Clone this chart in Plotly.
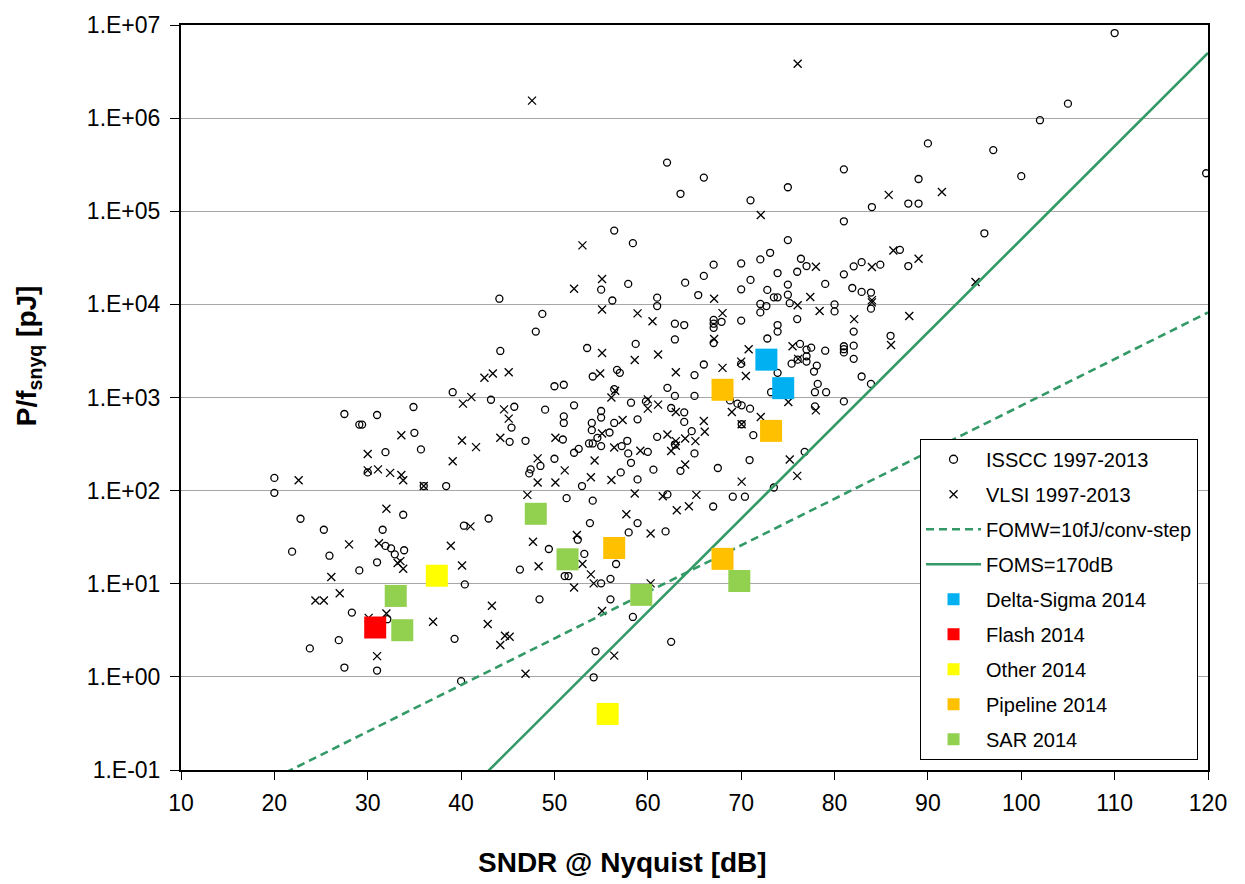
import plotly.graph_objects as go

# ---- ADC survey data: (SNDR @ Nyquist [dB], P/f_snyq [pJ]) ----
isscc_1997_2013 = [
    (39.1, 1140), (27.5, 665), (31.0, 649), (34.9, 791), (29.1, 512), (29.4, 512), (35.0, 417),
    (31.9, 259), (35.7, 277), (20.0, 137), (20.0, 94.6), (30.0, 157), (36.0, 112), (38.4, 112),
    (22.8, 49.9), (25.3, 38.0), (33.8, 55.1), (31.6, 38.0), (40.3, 42.0), (21.9, 22.1), (25.9, 20.0),
    (31.9, 25.5), (32.5, 24.0), (32.9, 20.7), (33.9, 22.9), (31.0, 17.0), (29.1, 13.9), (40.4, 9.84),
    (28.3, 4.9), (32.1, 4.16), (26.9, 2.48), (23.8, 2.02), (39.3, 2.56), (27.5, 1.26), (31.0, 1.17),
    (40.0, 0.90),
    (56.4, 6.2e4), (58.4, 4.54e4), (44.1, 1.15e4), (55.0, 1.44e4), (56.2, 1.1e4), (57.9, 1.66e4),
    (61.0, 1.18e4), (61.0, 9.6e3), (64.0, 1.71e4), (66.0, 2.02e4), (67.05, 2.67e4), (65.4, 1.26e4),
    (48.7, 7.9e3), (48.0, 5.1e3), (44.2, 3.16e3), (62.9, 6.2e3), (63.9, 6.0e3), (62.9, 4.2e3),
    (67.05, 6.8e3), (67.05, 6.2e3), (67.05, 5.6e3), (67.9, 6.5e3), (67.05, 3.85e3),
    (53.5, 3.4e3), (58.7, 3.76e3), (66.0, 2.26e3), (65.0, 1.74e3), (54.1, 1.68e3), (56.7, 1.98e3),
    (57.0, 1.84e3), (56.4, 1.23e3), (50.0, 1.32e3), (51.0, 1.37e3),
    (43.2, 946), (62.1, 1.27e3), (62.9, 1.04e3), (65.0, 1.04e3), (58.2, 879), (59.8, 908), (45.7, 796),
    (52.1, 824), (49.0, 740), (51.0, 628), (51.0, 533), (55.0, 716), (55.0, 608), (54.0, 533),
    (54.0, 446), (56.4, 533), (58.9, 583), (62.5, 771), (63.9, 693), (63.9, 547), (68.8, 931),
    (64.7, 435), (45.4, 475), (45.2, 334), (46.9, 343), (50.9, 354), (55.9, 421), (54.6, 369),
    (53.7, 321), (54.1, 321), (55.0, 301), (57.2, 301), (57.8, 343), (61.0, 378), (62.9, 313),
    (52.6, 281), (52.1, 255), (57.9, 251), (60.0, 261), (65.0, 251), (50.0, 220), (58.2, 199),
    (47.45, 169), (47.3, 153), (48.5, 184), (57.1, 157), (60.6, 168), (63.5, 163), (67.5, 175),
    (58.9, 132), (52.95, 112), (51.3, 83), (54.1, 78), (62.1, 91), (69.1, 86),
    (67.0, 67.5), (42.95, 50.2), (53.8, 44.8), (58.9, 44.8), (57.95, 35.6), (61.9, 36.5), (52.5, 29.7),
    (49.4, 23.6), (53.2, 20.9), (56.6, 16.3), (46.3, 14.2), (51.1, 12.1), (51.5, 12.1), (55.0, 10.1),
    (56.0, 11.3), (48.4, 6.8), (56.0, 6.8), (58.4, 4.4), (54.4, 1.88), (62.5, 2.38), (54.2, 0.99),
    (81.0, 7.8e4), (75.0, 4.9e4), (73.1, 3.58e4), (72.05, 3.04e4), (76.4, 3.09e4), (77.0, 2.58e4),
    (76.0, 2.24e4), (73.9, 2.17e4), (71.0, 1.83e4), (70.0, 2.75e4), (70.0, 1.45e4), (72.8, 1.43e4),
    (75.0, 1.63e4), (75.0, 1.27e4), (73.5, 1.19e4), (73.9, 1.19e4), (75.2, 1.03e4), (72.05, 1.01e4),
    (72.7, 9.6e3), (72.05, 8.2e3), (79.0, 1.66e4), (81.0, 2.1e4), (81.9, 1.5e4), (82.05, 2.56e4),
    (82.9, 2.84e4), (84.9, 2.67e4), (82.9, 1.36e4), (83.9, 1.34e4), (83.9, 9.0e3), (87.0, 3.85e4),
    (87.9, 2.58e4), (80.0, 1.0e4), (80.0, 8.4e3),
    (70.0, 6.7e3), (76.0, 6.95e3), (73.9, 6.0e3), (73.9, 5.1e3), (72.8, 4.3e3), (82.05, 5.1e3),
    (86.0, 4.6e3), (76.3, 3.76e3), (77.0, 3.27e3), (77.5, 3.43e3), (79.0, 3.18e3), (77.0, 2.77e3),
    (77.0, 2.43e3), (76.05, 2.55e3), (75.4, 2.31e3), (81.0, 3.55e3), (81.0, 3.3e3), (81.0, 3.05e3),
    (82.05, 3.6e3), (82.05, 2.6e3), (78.1, 2.2e3), (77.8, 1.9e3), (70.0, 2.3e3), (73.9, 1.84e3),
    (82.9, 1.68e3), (83.9, 1.4e3), (78.2, 1.4e3), (77.9, 1.14e3), (79.1, 1.14e3), (73.2, 1.14e3),
    (81.0, 908), (69.6, 859), (70.05, 824), (70.95, 759), (70.05, 516), (71.3, 394), (77.9, 803),
    (70.9, 213), (76.8, 261), (73.5, 108), (70.4, 86),
    (110.0, 8.2e6), (105.0, 1.43e6), (102.0, 9.5e5), (90.0, 5.35e5), (97.0, 4.54e5), (100.0, 2.38e5),
    (119.8, 2.56e5), (81.0, 2.82e5), (75.0, 1.81e5), (71.0, 1.31e5), (66.0, 2.3e5), (89.0, 2.22e5),
    (84.0, 1.11e5), (87.9, 1.21e5), (89.0, 1.21e5), (62.06, 3.33e5), (63.5, 1.54e5), (96.05, 5.8e4),
]

vlsi_1997_2013 = [
    (40.2, 859), (33.6, 394), (40.1, 345), (30.0, 247), (39.1, 207), (30.0, 165), (31.1, 169),
    (32.4, 155), (33.6, 147), (33.8, 129), (22.6, 129), (36.0, 112), (32.0, 63.8), (28.0, 26.5),
    (31.2, 27.2), (38.9, 25.6), (33.2, 16.7), (33.5, 17.5), (33.8, 14.5), (40.1, 15.7), (26.1, 11.8),
    (24.4, 6.6), (25.3, 6.6), (27.0, 7.9), (30.1, 4.3), (32.0, 4.8), (37.0, 3.9), (31.0, 1.67),
    (53.0, 4.3e4), (55.1, 1.87e4), (52.1, 1.47e4), (55.1, 8.8e3), (58.9, 8.0e3), (60.5, 6.6e3),
    (67.1, 1.15e4), (68.0, 8.05e3), (67.1, 4.25e3), (55.1, 3.0e3), (58.6, 2.53e3), (61.1, 2.89e3),
    (63.0, 1.87e3), (68.0, 2.08e3), (54.9, 1.81e3), (42.5, 1.63e3), (43.4, 1.81e3), (45.1, 1.87e3),
    (56.5, 1.18e3), (56.1, 1.0e3), (41.1, 1.01e3), (60.0, 955), (60.0, 759), (61.1, 838), (63.0, 698),
    (66.0, 560), (66.1, 428), (69.0, 698), (44.6, 746), (45.1, 593), (57.3, 574), (41.6, 293),
    (44.2, 369), (50.1, 369), (55.1, 410), (56.4, 290), (59.2, 268), (62.1, 400), (63.0, 340),
    (63.0, 303), (64.0, 363), (65.1, 340), (62.5, 266), (64.0, 191), (48.2, 222), (54.3, 211),
    (51.1, 165), (48.2, 122), (50.1, 122), (53.9, 139), (56.1, 130), (58.6, 93), (61.6, 87),
    (65.2, 90), (47.1, 90),
    (63.1, 61.6), (64.4, 68), (57.7, 55.8), (60.3, 34.7), (41.0, 41.3), (47.7, 28.3), (52.4, 33.4),
    (48.3, 15.4), (53.0, 16.3), (53.9, 12.6), (54.2, 10.1), (52.1, 9.1), (60.3, 10.1), (43.3, 5.8),
    (42.85, 3.7), (44.7, 2.76), (45.2, 2.7), (44.2, 2.2), (55.1, 5.1), (56.4, 1.69), (46.9, 1.08),
    (86.3, 3.79e4), (89.0, 3.09e4), (78.0, 2.54e4), (84.0, 2.52e4), (77.4, 1.2e4), (76.05, 9.8e3),
    (78.4, 8.5e3), (84.0, 1.11e4), (84.0, 1.05e4), (82.1, 6.95e3), (88.0, 7.5e3), (86.05, 3.66e3),
    (70.8, 3.3e3), (75.5, 3.55e3), (76.1, 2.6e3), (70.0, 2.43e3), (70.5, 1.7e3), (75.05, 893),
    (78.0, 728), (70.05, 516), (72.1, 618), (75.2, 216), (76.0, 144), (70.05, 125),
    (76.05, 3.83e6), (85.8, 1.5e5), (91.5, 1.61e5), (72.1, 9.1e4), (47.6, 1.54e6), (95.1, 1.74e4),
]

# 2014 designs by architecture
delta_sigma_2014 = [(72.7, 2550), (74.5, 1260)]
flash_2014 = [(30.8, 3.39)]
other_2014 = [(37.4, 12.2), (55.7, 0.40)]
pipeline_2014 = [(68.0, 1210), (73.2, 438), (56.4, 24.2), (68.0, 18.5)]
sar_2014 = [(48.0, 56.4), (51.4, 18.3), (59.3, 7.6), (69.8, 10.7), (33.0, 7.4), (33.7, 3.17)]

# Figure-of-merit reference lines
FOMW_FJ = 10.0      # fJ/conv-step
FOMS_DB = 170.0     # dB
sndr_axis = list(range(10, 121))

y_tick_vals = [1e-1, 1e0, 1e1, 1e2, 1e3, 1e4, 1e5, 1e6, 1e7]
y_tick_text = ["1.E-01", "1.E+00", "1.E+01", "1.E+02", "1.E+03", "1.E+04", "1.E+05", "1.E+06", "1.E+07"]
x_tick_vals = list(range(10, 121, 10))

FONT = "Arial, Liberation Sans, sans-serif"
LINE_GREEN = "#339966"


def energy_fomw(sndr):
    enob = (sndr - 1.76) / 6.02
    return FOMW_FJ * 1e-3 * 2 ** enob          # pJ


def energy_foms(sndr):
    return 1e12 * 10 ** ((sndr - FOMS_DB) / 10) / 2   # pJ


def xs(points):
    return [p[0] for p in points]


def ys(points):
    return [p[1] for p in points]


fig = go.Figure()

# survey markers
fig.add_trace(go.Scatter(
    x=xs(isscc_1997_2013), y=ys(isscc_1997_2013), mode="markers", showlegend=False,
    marker=dict(symbol="circle-open", size=7, color="black", line=dict(width=1.3, color="black")),
))
fig.add_trace(go.Scatter(
    x=xs(vlsi_1997_2013), y=ys(vlsi_1997_2013), mode="markers", showlegend=False,
    marker=dict(symbol="x-thin-open", size=8, color="black", line=dict(width=1.3, color="black")),
))

# FOM lines
fig.add_trace(go.Scatter(
    x=sndr_axis, y=[energy_fomw(s) for s in sndr_axis], mode="lines", showlegend=False,
    line=dict(color=LINE_GREEN, width=2.6, dash="8px,5px"),
))
fig.add_trace(go.Scatter(
    x=sndr_axis, y=[energy_foms(s) for s in sndr_axis], mode="lines", showlegend=False,
    line=dict(color=LINE_GREEN, width=2.6),
))

series_2014 = [
    ("Delta-Sigma 2014", delta_sigma_2014, "#00B0F0"),
    ("Flash 2014", flash_2014, "#FF0000"),
    ("Other 2014", other_2014, "#FFFF00"),
    ("Pipeline 2014", pipeline_2014, "#FFC000"),
    ("SAR 2014", sar_2014, "#92D050"),
]
for name, pts, col in series_2014:
    fig.add_trace(go.Scatter(
        x=xs(pts), y=ys(pts), mode="markers", showlegend=False,
        marker=dict(symbol="square", size=22, color=col, line=dict(width=0)),
    ))

# legend entries
legend_entries = [
    dict(name="ISSCC 1997-2013", mode="markers",
         marker=dict(symbol="circle-open", size=8, color="black", line=dict(width=1.3))),
    dict(name="VLSI 1997-2013", mode="markers",
         marker=dict(symbol="x-thin-open", size=8, color="black", line=dict(width=1.3, color="black"))),
    dict(name="FOMW=10fJ/conv-step", mode="lines",
         line=dict(color=LINE_GREEN, width=2.6, dash="8px,5px")),
    dict(name="FOMS=170dB", mode="lines", line=dict(color=LINE_GREEN, width=2.6)),
]
for name, pts, col in series_2014:
    legend_entries.append(dict(name=name, mode="markers",
                               marker=dict(symbol="square", size=12, color=col, line=dict(width=0))))
for i, e in enumerate(legend_entries):
    fig.add_trace(go.Scatter(x=[None], y=[None], legendgroup=f"g{i}", showlegend=True, **e))

fig.update_layout(
    width=1245, height=884,
    margin=dict(l=181, r=37, t=21, b=114, pad=0),
    paper_bgcolor="white", plot_bgcolor="white",
    font=dict(family=FONT, color="black"),
    showlegend=True,
    legend=dict(
        x=0.7196, y=0.4446, xanchor="left", yanchor="top",
        bgcolor="white", bordercolor="black", borderwidth=1,
        font=dict(family=FONT, size=20, color="black"),
        traceorder="grouped", tracegroupgap=6,
        itemwidth=55, entrywidth=210,
    ),
    xaxis=dict(
        range=[10, 120], tickvals=x_tick_vals, ticks="outside", ticklen=8, tickwidth=1,
        tickcolor="black", showline=True, linecolor="black", linewidth=2, mirror=True,
        showgrid=False, zeroline=False, tickfont=dict(family=FONT, size=23),
        ticklabelstandoff=3,
    ),
    yaxis=dict(
        type="log", range=[-1, 7], tickvals=y_tick_vals, ticktext=y_tick_text,
        ticks="outside", ticklen=9, tickwidth=1, tickcolor="black",
        showline=True, linecolor="black", linewidth=2, mirror=True,
        showgrid=True, gridcolor="#A6A6A6", gridwidth=1, zeroline=False,
        tickfont=dict(family=FONT, size=23), ticklabelstandoff=5,
    ),
    annotations=[
        dict(text="<b>SNDR @ Nyquist [dB]</b>", xref="paper", yref="paper",
             x=0.43, y=-0.1242, xanchor="center", yanchor="middle", showarrow=False,
             font=dict(family=FONT, size=28, color="black")),
        dict(text="<b>P/f<sub>snyq</sub> [pJ]</b>", xref="paper", yref="paper",
             x=-0.149, y=0.5567, xanchor="center", yanchor="middle", showarrow=False,
             textangle=-90, font=dict(family=FONT, size=28, color="black")),
    ],
)

fig.write_html("out.html")
